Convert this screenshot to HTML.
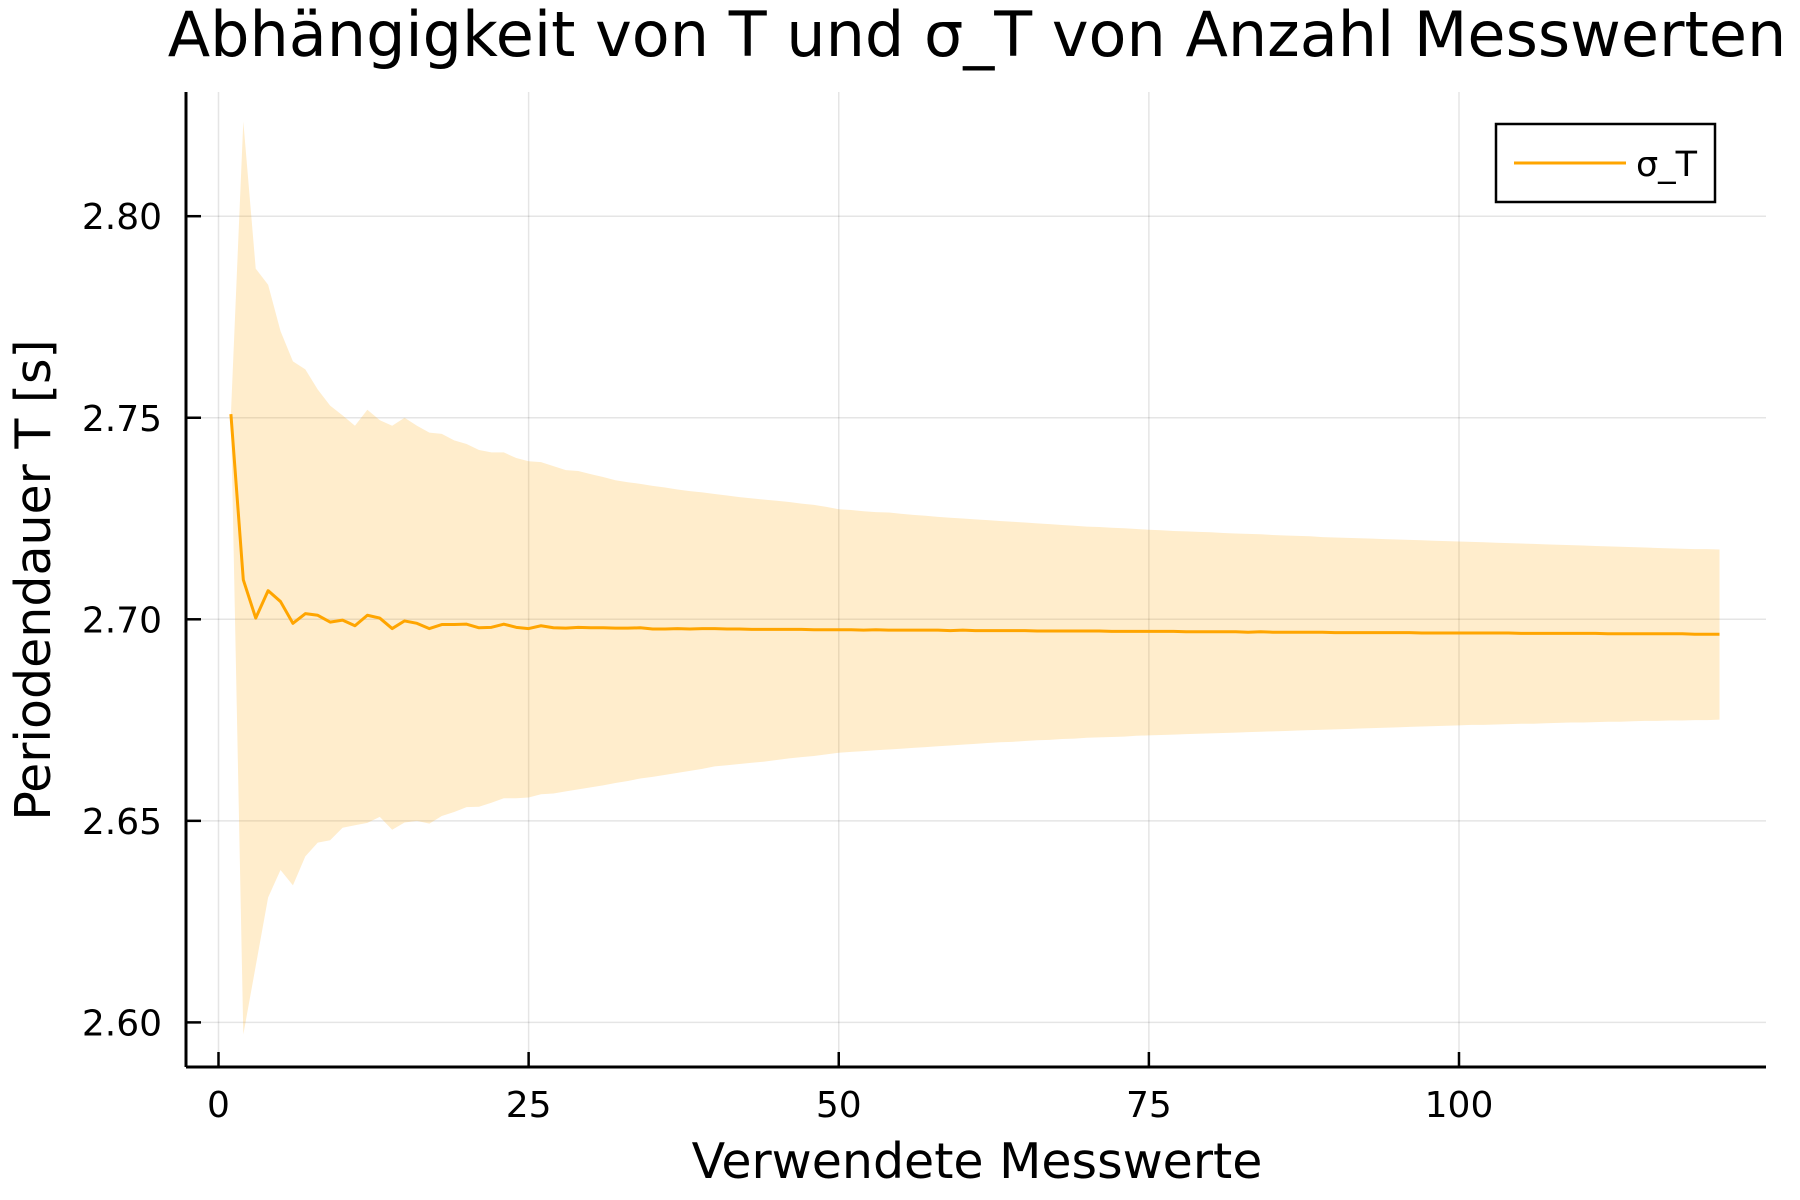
<!DOCTYPE html>
<html><head><meta charset="utf-8"><style>
html,body{margin:0;padding:0;background:#fff;}
svg{display:block;font-family:"DejaVu Sans","Liberation Sans",sans-serif;}
</style></head><body>
<svg id="chart" width="1800" height="1200" viewBox="0 0 1800 1200">
<text x="977" y="56" font-size="62" text-anchor="middle">Abhängigkeit von T und σ_T von Anzahl Messwerten</text>
<text x="977" y="1178" font-size="49" text-anchor="middle">Verwendete Messwerte</text>
<text transform="translate(50,580) rotate(-90)" font-size="49" text-anchor="middle">Periodendauer T [s]</text>
<g id="grid"></g><g id="series"></g><g id="axes"></g>
<g>
<rect x="1496" y="124" width="219" height="78" fill="#fff" stroke="#000" stroke-width="2.5"/>
<line x1="1514" y1="163" x2="1626" y2="163" stroke="#FFA500" stroke-width="3"/>
<text x="1636" y="176" font-size="35">σ_T</text>
</g>
</svg>
<script>
const xTicks=[0,25,50,75,100];
const yTicks=[2.60,2.65,2.70,2.75,2.80];
const yTickLabels=["2.60","2.65","2.70","2.75","2.80"];
const meanT=[2.7509,2.7098,2.7003,2.7071,2.7044,2.6990,2.7014,2.7010,2.6993,2.6998,
2.6984,2.7010,2.7003,2.6977,2.6996,2.6990,2.6977,2.6987,2.6987,2.6988,
2.6979,2.6980,2.6988,2.6980,2.6977,2.6984,2.6979,2.6978,2.6980,2.6979,
2.6979,2.6978,2.6978,2.6979,2.6976,2.6976,2.6977,2.6976,2.6977,2.6977,
2.6976,2.6976,2.6975,2.6975,2.6975,2.6975,2.6975,2.6974,2.6974,2.6974,
2.6974,2.6973,2.6974,2.6973,2.6973,2.6973,2.6973,2.6973,2.6972,2.6973,
2.6972,2.6972,2.6972,2.6972,2.6972,2.6971,2.6971,2.6971,2.6971,2.6971,
2.6971,2.6970,2.6970,2.6970,2.6970,2.6970,2.6970,2.6969,2.6969,2.6969,
2.6969,2.6969,2.6968,2.6969,2.6968,2.6968,2.6968,2.6968,2.6968,2.6967,
2.6967,2.6967,2.6967,2.6967,2.6967,2.6967,2.6966,2.6966,2.6966,2.6966,
2.6966,2.6966,2.6966,2.6966,2.6965,2.6965,2.6965,2.6965,2.6965,2.6965,
2.6965,2.6964,2.6964,2.6964,2.6964,2.6964,2.6964,2.6964,2.6963,2.6963,2.6963];
const upperT=[2.7509,2.8235,2.787,2.783,2.7715,2.764,2.762,2.757,2.753,2.7506,
2.748,2.752,2.7494,2.748,2.750,2.748,2.7463,2.746,2.7444,2.7435,
2.742,2.7414,2.7414,2.740,2.7392,2.739,2.738,2.737,2.7368,2.736,
2.7353,2.7345,2.734,2.7336,2.7331,2.7327,2.7322,2.7318,2.7315,2.7311,
2.7307,2.7303,2.730,2.7297,2.7294,2.7291,2.7287,2.7284,2.7279,2.7273,
2.7271,2.7268,2.7266,2.7265,2.7262,2.7259,2.7257,2.7254,2.7252,2.7250,
2.7248,2.7246,2.7244,2.7242,2.7240,2.7238,2.7236,2.7234,2.7232,2.7230,
2.7229,2.7227,2.7226,2.7224,2.7222,2.7221,2.7219,2.7218,2.7217,2.7216,
2.7214,2.7213,2.7212,2.7211,2.7209,2.7208,2.7207,2.7206,2.7204,2.7203,
2.7202,2.7201,2.7200,2.7199,2.7198,2.7197,2.7196,2.7195,2.7194,2.7193,
2.7192,2.7191,2.7190,2.7189,2.7188,2.7187,2.7186,2.7185,2.7184,2.7183,
2.7182,2.7181,2.7180,2.7179,2.7178,2.7177,2.7176,2.7175,2.7174,2.7174,2.7173];
const lowerT=[2.7509,2.597,2.614,2.631,2.6378,2.634,2.6412,2.6446,2.6452,2.6483,
2.6489,2.6495,2.651,2.6478,2.6496,2.650,2.6493,2.6512,2.6522,2.6534,
2.6535,2.6545,2.6556,2.6556,2.6558,2.6566,2.6568,2.6573,2.6578,2.6583,
2.6588,2.6594,2.6599,2.6605,2.6609,2.6614,2.6619,2.6624,2.6629,2.6635,
2.6638,2.6641,2.6644,2.6647,2.6651,2.6655,2.6658,2.6661,2.6665,2.6669,
2.6671,2.6673,2.6675,2.6677,2.6679,2.6681,2.6683,2.6685,2.6687,2.6689,
2.6691,2.6693,2.6695,2.6696,2.6698,2.6700,2.6701,2.6703,2.6704,2.6706,
2.6707,2.6708,2.6709,2.6711,2.6712,2.6713,2.6714,2.6715,2.6716,2.6717,
2.6718,2.6719,2.6720,2.6721,2.6722,2.6723,2.6724,2.6725,2.6726,2.6727,
2.6728,2.6729,2.6730,2.6731,2.6732,2.6733,2.6734,2.6735,2.6736,2.6737,
2.6738,2.6738,2.6739,2.6740,2.6741,2.6741,2.6742,2.6743,2.6744,2.6744,
2.6745,2.6746,2.6746,2.6747,2.6748,2.6748,2.6749,2.6749,2.6750,2.6750,2.6751];

const NS="http://www.w3.org/2000/svg";
const L=186,R=1766,T=92,B=1067;
function sx(v){return 218.5+(v-0)*(1459-218.5)/100;}
function sy(v){return 216.2+(2.80-v)*(1022.4-216.2)/0.20;}
function mk(tag,attrs,parent){const e=document.createElementNS(NS,tag);for(const k in attrs)e.setAttribute(k,attrs[k]);parent.appendChild(e);return e;}
const grid=document.getElementById('grid'),axes=document.getElementById('axes'),series=document.getElementById('series');

xTicks.forEach(function(t){
  const g=mk('line',{x1:sx(t),x2:sx(t),y1:T,y2:B,stroke:'#000','stroke-opacity':0.1,'stroke-width':1.5},grid);
  
  
  const tk=mk('line',{x1:sx(t),x2:sx(t),y1:B,y2:B-15,stroke:'#000','stroke-width':2.5},axes);
  
  
  const lb=mk('text',{x:sx(t),y:1117,'font-size':36,'text-anchor':'middle'},axes);
  lb.textContent=String(t);
  
  
});
yTicks.forEach(function(t,i){
  const g=mk('line',{x1:L,x2:R,y1:sy(t),y2:sy(t),stroke:'#000','stroke-opacity':0.1,'stroke-width':1.5},grid);
  
  
  const tk=mk('line',{x1:L,x2:L+15,y1:sy(t),y2:sy(t),stroke:'#000','stroke-width':2.5},axes);
  
  
  const lb=mk('text',{x:162,y:sy(t)+13,'font-size':36,'text-anchor':'end'},axes);
  lb.textContent=yTickLabels[i];
  
  
});
const xa=mk('line',{x1:L,x2:R,y1:B,y2:B,stroke:'#000','stroke-width':3},axes);


const ya=mk('line',{x1:L,x2:L,y1:T,y2:B,stroke:'#000','stroke-width':3},axes);



let bandD='';
upperT.forEach(function(v,i){bandD+=(i?'L':'M')+sx(i+1).toFixed(2)+','+sy(v).toFixed(2);});
for(let i=lowerT.length-1;i>=0;i--){bandD+='L'+sx(i+1).toFixed(2)+','+sy(lowerT[i]).toFixed(2);}
bandD+='Z';
const band=mk('path',{d:bandD,fill:'#FFA500','fill-opacity':0.2,stroke:'none'},series);


let lineD='';
meanT.forEach(function(v,i){lineD+=(i?'L':'M')+sx(i+1).toFixed(2)+','+sy(v).toFixed(2);});
const ln=mk('path',{d:lineD,fill:'none',stroke:'#FFA500','stroke-width':3,'stroke-linejoin':'round'},series);


</script>
</body></html>
